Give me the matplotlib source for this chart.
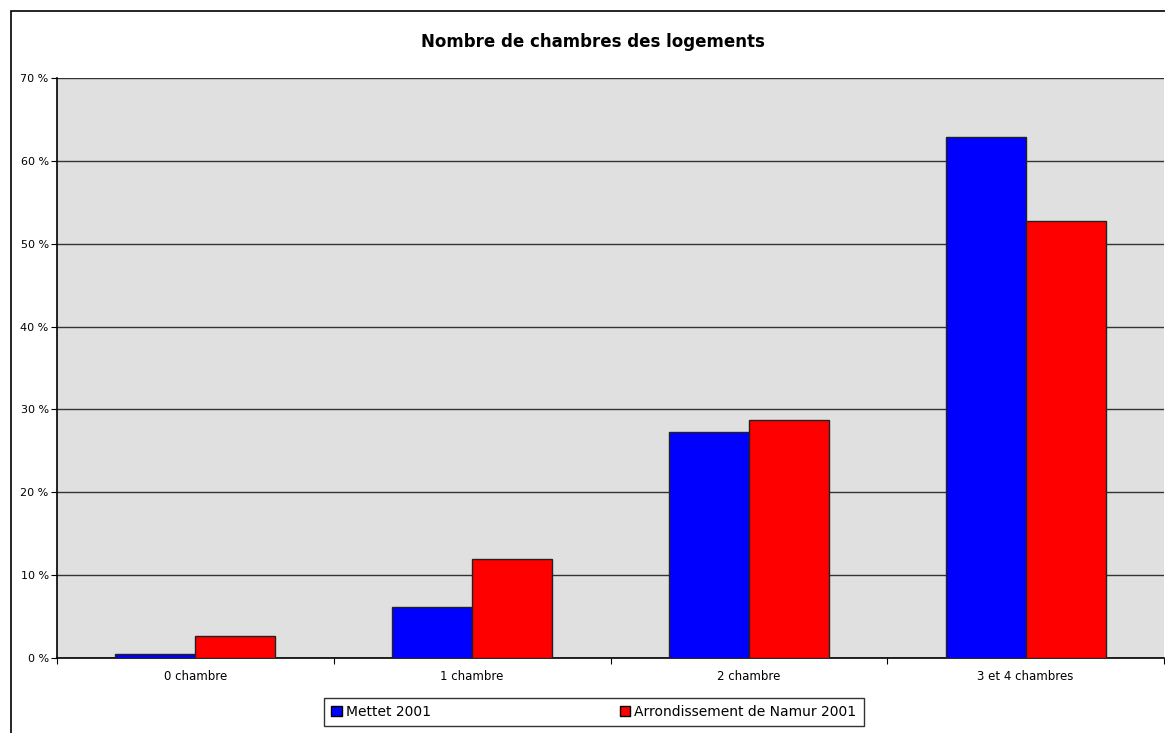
import matplotlib
matplotlib.use("Agg")
import matplotlib.pyplot as plt
from matplotlib.patches import Rectangle
import numpy as np

categories = ["0 chambre", "1 chambre", "2 chambre", "3 et 4 chambres"]
mettet = [0.5, 6.1, 27.3, 62.9]
namur = [2.6, 12.0, 28.7, 52.7]
series_names = ["Mettet 2001", "Arrondissement de Namur 2001"]
yticks = [0, 10, 20, 30, 40, 50, 60, 70]

W, H = 1165, 733
fig = plt.figure(figsize=(W / 100, H / 100), dpi=100)
fig.patch.set_facecolor("white")

# outer chart frame
fig.patches.append(Rectangle((11 / W, -0.01), (W + 5 - 11) / W, (H - 11) / H + 0.01,
                             transform=fig.transFigure, fill=False,
                             edgecolor="black", linewidth=1.2))

ax = fig.add_axes([57 / W, (H - 658) / H, (W - 1 - 57) / W, (658 - 78) / H])
ax.set_facecolor("#E0E0E0")

x = np.arange(len(categories))
bw = 0.289
ax.bar(x - bw / 2, mettet, width=bw, color="#0000FF", edgecolor="#222222",
       linewidth=1.0, label=series_names[0], zorder=3)
ax.bar(x + bw / 2, namur, width=bw, color="#FF0000", edgecolor="#222222",
       linewidth=1.0, label=series_names[1], zorder=3)

ax.set_xlim(-0.5, len(categories) - 0.5)
ax.set_ylim(0, 70)
ax.set_yticks(yticks)
ax.set_yticklabels([f"{v} %" for v in yticks], fontsize=8)
ax.yaxis.grid(True, color="#333333", linewidth=1.0, zorder=1)
ax.set_axisbelow(True)

ax.set_xticks(np.arange(len(categories) + 1) - 0.5)
ax.set_xticklabels([])
ax.set_xticks(x, minor=True)
ax.set_xticklabels(categories, minor=True, fontsize=8.5)
ax.tick_params(axis="x", which="minor", length=0, pad=9)
ax.tick_params(axis="x", which="major", length=4, direction="out", color="black")
ax.tick_params(axis="y", length=4, direction="out", pad=2)

for s in ["top", "right"]:
    ax.spines[s].set_visible(False)
ax.spines["left"].set_color("black")
ax.spines["bottom"].set_color("black")
ax.spines["left"].set_linewidth(1.2)
ax.spines["bottom"].set_linewidth(1.2)

fig.text(593 / W, 1 - 42 / H, "Nombre de chambres des logements",
         ha="center", va="center", fontsize=12, fontweight="semibold", family="DejaVu Sans")

leg = fig.legend(loc="center", bbox_to_anchor=(594 / W, 1 - 712 / H), ncol=2,
                 frameon=True, fancybox=False, edgecolor="black", fontsize=10,
                 handlelength=0.75, handleheight=0.75, handletextpad=0.3,
                 columnspacing=13.6, borderpad=0.5)
leg.get_frame().set_linewidth(1.0)
for h in leg.legend_handles:
    h.set_edgecolor("black")

fig.savefig("out.png", dpi=100)
